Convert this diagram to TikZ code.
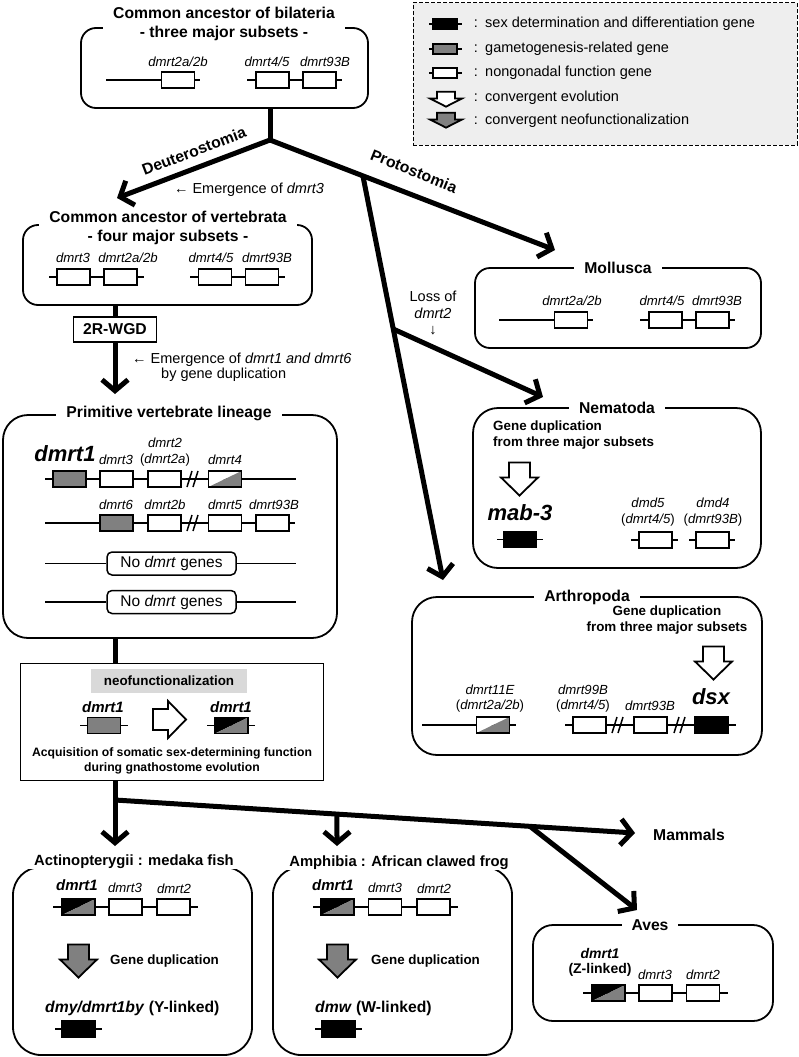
\documentclass[tikz,border=0pt]{standalone}
\usepackage{fontspec}
\setmainfont{Liberation Sans}
\usetikzlibrary{arrows.meta,calc}
\definecolor{ggray}{HTML}{808080}
\definecolor{leggray}{HTML}{EEEEEE}
\definecolor{neogray}{HTML}{D9D9D9}
\newcommand{\fT}{\fontsize{15.7}{19}\selectfont\bfseries}
\newcommand{\fTs}{\fontsize{14.8}{18}\selectfont\bfseries}
\newcommand{\fG}{\fontsize{13.2}{15.5}\selectfont\itshape}
\newcommand{\fL}{\fontsize{14.5}{17}\selectfont}
\newcommand{\fB}{\fontsize{13.4}{16}\selectfont\bfseries}
\newcommand{\fBI}{\fontsize{15}{18}\selectfont\bfseries\itshape}
\newcommand{\fHuge}{\fontsize{22}{26}\selectfont\bfseries\itshape}
\newcommand{\fE}{\fontsize{14.5}{16.5}\selectfont}
\begin{document}
\begin{tikzpicture}[x=1pt,y=-1pt,
  rbox/.style={draw,line width=1.8pt,inner sep=0pt},
  titl/.style={fill=white,font=\fT,align=center,inner xsep=10pt,inner ysep=0pt},
  glab/.style={font=\fG,inner sep=0pt},
  gline/.style={line width=1.5pt},
  genebox/.style={line width=1.6pt},
  trunk/.style={line width=5pt},
  arr/.style={line width=5pt,-{Straight Barb[length=11pt,width=26pt]}},
  pics/gene/.style={code={\draw[genebox,fill=#1] (-16.5,-8) rectangle (16.5,8);}},
  pics/half/.style={code={\fill[#1] (-16.5,-8) -- (16.5,-8) -- (-16.5,8) -- cycle; \fill[ggray] (16.5,-8) -- (16.5,8) -- (-16.5,8) -- cycle; \draw[genebox] (-16.5,-8) rectangle (16.5,8);}},
  pics/barrow/.style={code={\draw[line width=1.8pt,fill=#1,line join=miter] (-10.5,-16) -- (10.5,-16) -- (10.5,-1) -- (18.5,-1) -- (0,17) -- (-18.5,-1) -- (-10.5,-1) -- cycle;}},
  pics/brk/.style={code={\draw[line width=1.5pt] (-6,8) -- (-1,-8) (0,8) -- (5,-8);}},
]
\useasboundingbox (0,0) rectangle (799,1057);

% ---------- legend ----------
\node[draw,dashed,dash pattern=on 4pt off 2pt,line width=1pt,fill=leggray,minimum width=384pt,minimum height=142pt,inner sep=0pt] (leg) at (605,74) {};
\draw[gline] (429,24) -- (462,24); \pic[xscale=0.73,yscale=0.65] at (445,24) {gene=black};
\draw[gline] (429,49) -- (462,49); \pic[xscale=0.73,yscale=0.65] at (445,49) {gene=ggray};
\draw[gline] (429,73) -- (462,73); \pic[xscale=0.73,yscale=0.65] at (445,73) {gene=white};
\pic[xscale=0.86,yscale=0.45] at (446,99) {barrow=white};
\pic[xscale=0.86,yscale=0.45] at (446,120) {barrow=ggray};
\foreach \yy/\nm in {24/c1,49/c2,73/c3,98/c4,121/c5}{\node[font=\fL,inner sep=0pt] (\nm) at (476,\yy) {:};}
\node[font=\fL,anchor=west,inner sep=0pt] (lt1) at (485,24) {sex determination and differentiation gene};
\node[font=\fL,anchor=west,inner sep=0pt] (lt2) at (485,49) {gametogenesis-related gene};
\node[font=\fL,anchor=west,inner sep=0pt] (lt3) at (485,73) {nongonadal function gene};
\node[font=\fL,anchor=west,inner sep=0pt] (lt4) at (485,98) {convergent evolution};
\node[font=\fL,anchor=west,inner sep=0pt] (lt5) at (485,121) {convergent neofunctionalization};

% ---------- common ancestor of bilateria ----------
\node[rbox,rounded corners=15pt,minimum width=287pt,minimum height=80pt] (bil) at (224.5,68) {};
\node[titl] (bilT) at (224,23.5) {Common ancestor of bilateria\\- three major subsets -};
\draw[gline] (106,80) -- (200,80); \pic at (178,80) {gene=white};
\draw[gline] (247,80) -- (342,80); \pic at (272.5,80) {gene=white}; \pic at (319.5,80) {gene=white};
\node[glab] (b1) at (178,62) {dmrt2a/2b};
\node[glab] (b2) at (267,62) {dmrt4/5};
\node[glab] (b3) at (325,62) {dmrt93B};

% ---------- tree top ----------
\coordinate (br1) at (270,140);
\coordinate (vx) at (115,0);
\draw[trunk] (bil.south -| br1) -- (br1);
\coordinate (deutTip) at (117,198);
\coordinate (mollTip) at (555,250);
\coordinate (pbr) at ($(br1)!0.326!(mollTip)$);
\coordinate (arthTip) at (443,580);
\coordinate (nbr) at ($(pbr)!0.379!(arthTip)$);
\coordinate (nemTip) at (543,397);
\draw[arr] (br1) -- (deutTip);
\draw[arr] (br1) -- (mollTip);
\draw[arr] (pbr) -- (arthTip);
\draw[arr] (nbr) -- (nemTip);
\node[font=\fT,rotate=21,inner sep=0pt] (deutL) at (194,151) {Deuterostomia};
\node[font=\fT,rotate=-22,inner sep=0pt] (protL) at (414,171) {Protostomia};
\node[font=\fE,inner sep=0pt] (em3) at (249,190) {← Emergence of \textit{dmrt3}};
\node[font=\fE,align=center,inner sep=0pt] (loss) at (433,313) {Loss of\\\textit{dmrt2}\\↓};

% ---------- vertebrata ----------
\node[rbox,rounded corners=15pt,minimum width=289pt,minimum height=80pt] (vert) at (167.5,265) {};
\node[titl] (vertT) at (168,227.5) {Common ancestor of vertebrata\\- four major subsets -};
\draw[gline] (49,277) -- (144,277); \pic at (73.5,277) {gene=white}; \pic at (120.5,277) {gene=white};
\draw[gline] (190,277) -- (285,277); \pic at (215,277) {gene=white}; \pic at (262,277) {gene=white};
\node[glab] (v1) at (73,258) {dmrt3};
\node[glab] (v2) at (128,258) {dmrt2a/2b};
\node[glab] (v3) at (211,258) {dmrt4/5};
\node[glab] (v4) at (267,258) {dmrt93B};

\node[draw,line width=1.5pt,minimum width=83pt,minimum height=25pt,font=\fT,inner sep=0pt] (wgd) at (115,329.5) {2R-WGD};
\draw[trunk] (vert.south -| vx) -- (wgd.north);
\coordinate (linTip) at (115,394);
\draw[arr] (wgd.south) -- (linTip);
\node[font=\fE,anchor=west,inner sep=0pt] (em1) at (132,360) {← Emergence of \textit{dmrt1 and dmrt6}};
\node[font=\fE,anchor=west,inner sep=0pt] (em1b) at (161,375) {by gene duplication};

% ---------- primitive vertebrate lineage ----------
\node[rbox,rounded corners=25pt,minimum width=334pt,minimum height=223pt] (lin) at (170,526.5) {};
\node[titl] (linT) at (169,413) {Primitive vertebrate lineage};
\draw[gline] (45,479) -- (296,479);
\pic at (69.5,479) {gene=ggray};
\pic at (116.5,479) {gene=white};
\pic at (164.5,479) {gene=white};
\pic at (193,479) {brk};
\pic at (225,479) {half=white};
\node[font=\fHuge,inner sep=0pt] (ld1) at (65,454) {dmrt1};
\node[glab] (ld3) at (116,460) {dmrt3};
\node[glab] (ld2) at (165,443) {dmrt2};
\node[glab] (ld2a) at (165,460) {\upshape(\itshape dmrt2a\upshape)};
\node[glab] (ld4) at (225,460) {dmrt4};
\draw[gline] (45,523) -- (295,523);
\pic at (116.5,523) {gene=ggray};
\pic at (164.5,523) {gene=white};
\pic at (193,523) {brk};
\pic at (225,523) {gene=white};
\pic at (272.5,523) {gene=white};
\node[glab] (ld6) at (116,505) {dmrt6};
\node[glab] (ld2b) at (165,505) {dmrt2b};
\node[glab] (ld5) at (225,505) {dmrt5};
\node[glab] (ld93) at (274,505) {dmrt93B};
\node[draw,line width=1.5pt,rounded corners=5pt,fill=white,minimum width=129pt,minimum height=23pt,inner sep=0pt,font=\fontsize{15.5}{18}\selectfont] (no1) at (171.5,563.5) {No \textit{dmrt} genes};
\draw[gline] (no1.west) -- (45,563.5) (no1.east) -- (296,563.5);
\node[draw,line width=1.5pt,rounded corners=5pt,fill=white,minimum width=129pt,minimum height=23pt,inner sep=0pt,font=\fontsize{15.5}{18}\selectfont] (no2) at (171.5,602) {No \textit{dmrt} genes};
\draw[gline] (no2.west) -- (45,602) (no2.east) -- (296,602);

% ---------- neofunctionalization ----------
\node[draw,line width=1pt,minimum width=303pt,minimum height=117pt,inner sep=0pt] (neo) at (171.5,721.5) {};
\draw[trunk] (lin.south -| vx) -- (neo.north -| vx);
\node[fill=neogray,minimum width=156pt,minimum height=24pt,font=\fB,inner sep=0pt] (neoL) at (169,681) {neofunctionalization};
\draw[gline] (80,725.5) -- (128,725.5); \pic at (104,725.5) {gene=ggray};
\node[font=\fBI,inner sep=0pt] (nd1) at (103,707) {dmrt1};
\pic[rotate=90] at (169,719.5) {barrow=white};
\draw[gline] (207,725.5) -- (255,725.5); \pic at (231.5,725.5) {half=black};
\node[font=\fBI,inner sep=0pt] (nd2) at (231,707) {dmrt1};
\node[font=\fontsize{12.2}{15}\selectfont\bfseries,align=center,inner sep=0pt] (acq) at (172,760.5) {Acquisition of somatic sex-determining function\\during gnathostome evolution};

% ---------- lower tree ----------
\coordinate (hbr) at (115,800);
\draw[trunk] (neo.south -| vx) -- (hbr);
\coordinate (actTip) at (115,846);
\coordinate (mamTip) at (635,833);
\coordinate (amBr) at ($(hbr)!0.4269!(mamTip)$);
\coordinate (amTip) at (337,846);
\coordinate (avBr) at ($(hbr)!0.798!(mamTip)$);
\coordinate (avTip) at (637,910);
\draw[arr] (hbr) -- (actTip);
\draw[arr] (hbr) -- (mamTip);
\draw[arr] (amBr) -- (amTip);
\draw[arr] (avBr) -- (avTip);
\node[font=\fT,anchor=west,inner sep=0pt] (mam) at (653,835) {Mammals};

% ---------- Actinopterygii ----------
\node[rbox,rounded corners=28pt,minimum width=239pt,minimum height=188pt] (act) at (132.5,961) {};
\node[titl,font=\fTs] (actT) at (134,862) {Actinopterygii : medaka fish};
\node[font=\fBI,inner sep=0pt] (a1) at (77,885) {dmrt1};
\node[glab] (a3) at (125,888) {dmrt3};
\node[glab] (a2) at (174,889) {dmrt2};
\draw[gline] (53,907) -- (198,907);
\pic at (78.5,907) {half=black}; \pic at (125.5,907) {gene=white}; \pic at (173.5,907) {gene=white};
\pic at (78.5,960.5) {barrow=ggray};
\node[font=\fB,anchor=west,inner sep=0pt] (adup) at (110,961) {Gene duplication};
\node[font=\fT,anchor=west,inner sep=0pt] (dmy) at (45,1008) {\textit{dmy/dmrt1by} (Y-linked)};
\draw[gline] (55,1029) -- (102,1029); \pic at (78.5,1029) {gene=black};

% ---------- Amphibia ----------
\node[rbox,rounded corners=28pt,minimum width=239pt,minimum height=188pt] (amp) at (392.5,961) {};
\node[titl,font=\fTs] (ampT) at (399,863) {Amphibia : African clawed frog};
\node[font=\fBI,inner sep=0pt] (p1) at (333,885) {dmrt1};
\node[glab] (p3) at (385,888) {dmrt3};
\node[glab] (p2) at (434,889) {dmrt2};
\draw[gline] (313,907) -- (458,907);
\pic at (337.5,907) {half=black}; \pic at (385,907) {gene=white}; \pic at (433.5,907) {gene=white};
\pic at (337.5,960.5) {barrow=ggray};
\node[font=\fB,anchor=west,inner sep=0pt] (pdup) at (371,961) {Gene duplication};
\node[font=\fT,anchor=west,inner sep=0pt] (dmw) at (315,1008) {\textit{dmw} (W-linked)};
\draw[gline] (315,1029) -- (362,1029); \pic at (338.5,1029) {gene=black};

% ---------- Aves ----------
\node[rbox,rounded corners=20pt,minimum width=240pt,minimum height=96pt] (ave) at (653,973) {};
\node[titl] (aveT) at (650,925) {Aves};
\node[font=\fontsize{14}{15.5}\selectfont\bfseries,align=center,inner sep=0pt] (z1) at (600,962.5) {\textit{dmrt1}\\(Z-linked)};
\node[glab] (z3) at (655,975) {dmrt3};
\node[glab] (z2) at (703,975) {dmrt2};
\draw[gline] (583,993) -- (728,993);
\pic at (608.5,993) {half=black}; \pic at (655.5,993) {gene=white}; \pic at (703,993) {gene=white};

% ---------- Mollusca ----------
\node[rbox,rounded corners=15pt,minimum width=286pt,minimum height=80pt] (mol) at (618,308) {};
\node[titl] (molT) at (618,268) {Mollusca};
\draw[gline] (499,320) -- (593,320); \pic at (571,320) {gene=white};
\draw[gline] (640,320) -- (735,320); \pic at (665.5,320) {gene=white}; \pic at (712.5,320) {gene=white};
\node[glab] (m1) at (572,301) {dmrt2a/2b};
\node[glab] (m2) at (662,301) {dmrt4/5};
\node[glab] (m3) at (717,301) {dmrt93B};

% ---------- Nematoda ----------
\node[rbox,rounded corners=25pt,minimum width=288pt,minimum height=160pt] (nem) at (617,488) {};
\node[titl] (nemT) at (617,408) {Nematoda};
\node[font=\fB,align=left,anchor=west,inner sep=0pt] (nemD) at (493,435) {Gene duplication\\from three major subsets};
\pic at (519.5,478.5) {barrow=white};
\node[font=\fHuge,inner sep=0pt] (mab) at (520,513) {mab-3};
\draw[gline] (497,539.5) -- (543,539.5); \pic at (520,539.5) {gene=black};
\node[glab] (n1) at (648,503) {dmd5};
\node[glab] (n2) at (648,520) {\upshape(\itshape dmrt4/5\upshape)};
\draw[gline] (631,540) -- (678,540); \pic at (655.5,540) {gene=white};
\node[glab] (n3) at (713,503) {dmd4};
\node[glab] (n4) at (713,520) {\upshape(\itshape dmrt93B\upshape)};
\draw[gline] (689,540) -- (735,540); \pic at (712.5,540) {gene=white};

% ---------- Arthropoda ----------
\node[rbox,rounded corners=25pt,minimum width=350pt,minimum height=158pt] (art) at (587,676) {};
\node[titl] (artT) at (587,597) {Arthropoda};
\node[font=\fB,align=center,inner sep=0pt] (artD) at (667,620.5) {Gene duplication\\from three major subsets};
\pic at (713.5,662.5) {barrow=white};
\node[font=\fHuge,inner sep=0pt] (dsx) at (711,697) {dsx};
\draw[gline] (422,725) -- (516,725); \pic at (493,725) {half=white};
\node[glab] (r1) at (490,690) {dmrt11E};
\node[glab] (r2) at (490,706) {\upshape(\itshape dmrt2a/2b\upshape)};
\draw[gline] (565,725) -- (736,725);
\pic at (589.5,725) {gene=white}; \pic at (618,725) {brk}; \pic at (650.5,725) {gene=white}; \pic at (680,725) {brk}; \pic at (711.5,725) {gene=black};
\node[glab] (r3) at (583,690) {dmrt99B};
\node[glab] (r4) at (583,706) {\upshape(\itshape dmrt4/5\upshape)};
\node[glab] (r5) at (650,706) {dmrt93B};
\end{tikzpicture}
\end{document}
